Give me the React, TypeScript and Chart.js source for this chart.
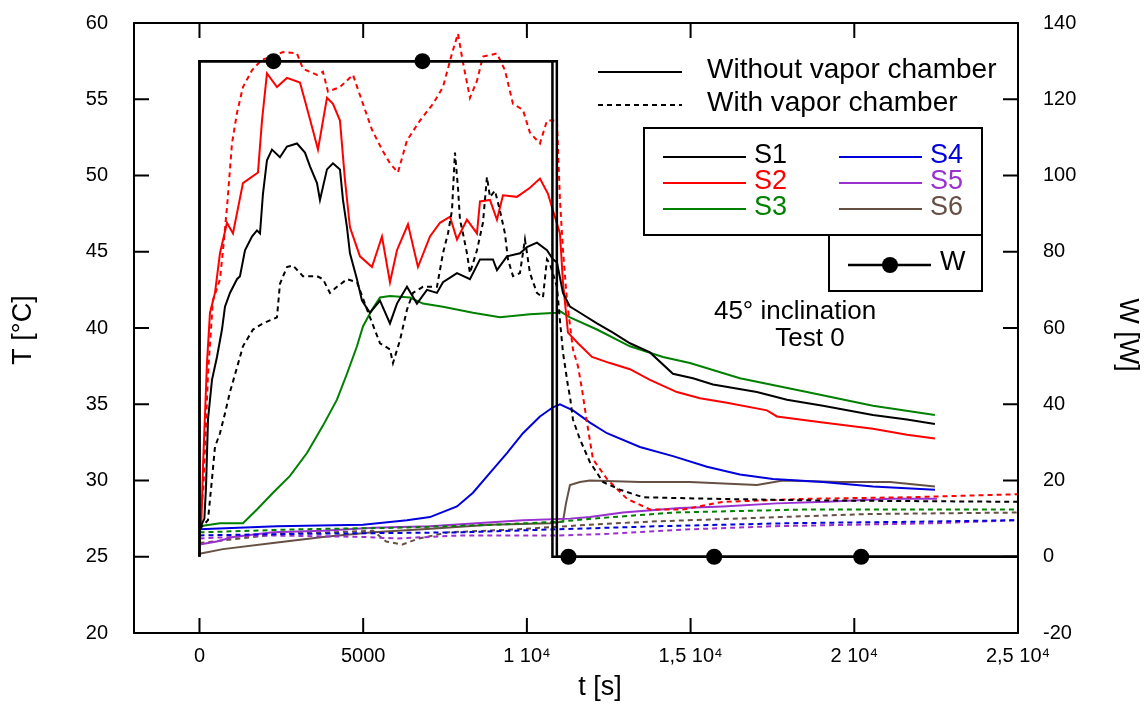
import React, { useEffect, useRef } from "react";
import { Chart, registerables } from "chart.js";

Chart.register(...registerables);

type Pt = [number, number];

// ---- axis ticks ----
const xTickValues = [0, 5000, 10000, 15000, 20000, 25000];
const xTickLabels = ["0", "5000", "1 10⁴", "1,5 10⁴", "2 10⁴", "2,5 10⁴"];

// ---- temperature series [t (s), T (°C)] ----
const s1Without: Pt[] = [[0,26.8],[150,27.5],[200,29.6],[260,34],[382,36.6],[534,38.1],[687,39.9],[779,41.4],[931,42.3],[1145,43.2],[1237,43.4],[1390,45.1],[1603,46.0],[1756,46.4],[1848,46.2],[1939,48.8],[2061,51.0],[2214,51.7],[2458,51.2],[2672,51.9],[2978,52.1],[3222,51.5],[3375,50.6],[3589,49.5],[3680,48.4],[3894,50.4],[4077,50.8],[4291,50.4],[4383,48.4],[4505,46.6],[4596,44.9],[4810,43.2],[4963,41.8],[5207,41.0],[5513,41.8],[5818,40.3],[6032,41.6],[6337,42.7],[6642,41.6],[6948,42.5],[7253,42.3],[7437,43.0],[7865,43.6],[8261,43.2],[8567,44.5],[8963,44.5],[9086,43.8],[9391,44.7],[9788,44.9],[10002,45.3],[10307,45.6],[10613,45.1],[10796,44.5],[10918,44.3],[11102,42.3],[11316,41.4],[11621,41.0],[12140,40.3],[12629,39.7],[13148,39.0],[13759,38.4],[14461,37.0],[15072,36.7],[15683,36.3],[17026,35.8],[17943,35.3],[19042,34.9],[20569,34.3],[21608,34.0],[22463,33.7]];
const s1With: Pt[] = [[0,26.8],[260,27.4],[382,30.1],[473,32.2],[626,33.1],[779,34.4],[931,35.8],[1145,37.4],[1328,38.8],[1634,39.9],[1939,40.3],[2367,40.7],[2458,42.9],[2672,44.0],[2856,44.1],[3161,43.4],[3589,43.4],[3772,43.2],[3985,42.3],[4199,42.7],[4505,43.2],[4810,43.0],[5207,40.7],[5513,39.0],[5818,38.6],[5910,37.7],[6124,39.2],[6337,41.2],[6520,42.3],[6826,42.7],[7253,42.7],[7437,44.9],[7590,46.2],[7712,47.7],[7803,51.5],[7895,49.2],[7956,47.1],[8048,46.2],[8170,44.9],[8261,43.6],[8475,45.1],[8658,46.9],[8780,49.9],[8872,48.6],[9025,49.0],[9177,47.7],[9330,46.2],[9422,44.5],[9575,43.4],[9788,43.6],[9941,45.8],[10094,43.6],[10307,42.3],[10491,42.0],[10613,44.5],[10705,44.2],[10918,42.7],[11010,40.5],[11102,38.4],[11255,36.2],[11316,35.5],[11407,34.0],[11621,32.7],[11926,31.2],[12323,29.9],[12842,29.4],[13545,28.9],[15683,28.8],[18553,28.7],[25000,28.6]];
const s2Without: Pt[] = [[0,26.9],[60,27.4],[107,30.9],[229,37.7],[321,41],[473,42.3],[626,44.9],[840,46.9],[1023,46.2],[1328,49.5],[1787,50.2],[1909,53.6],[2061,56.7],[2367,55.8],[2672,56.4],[3069,56.1],[3222,54.9],[3436,53.2],[3619,51.7],[3894,55.1],[4077,54.7],[4291,53.6],[4444,49.7],[4596,46.6],[4902,44.7],[5268,44.0],[5574,46.0],[5818,43.0],[6032,45.1],[6368,46.8],[6673,44.0],[7040,46.0],[7345,46.9],[7651,47.3],[7865,45.8],[8170,47.1],[8475,46.2],[8567,48.3],[8872,48.4],[9086,47.1],[9269,48.7],[9697,48.6],[10094,49.2],[10399,49.8],[10644,48.8],[10796,47.7],[11010,46.2],[11102,43.0],[11255,39.7],[11560,39.0],[11988,38.1],[12537,37.7],[13148,37.3],[13759,36.6],[14583,35.8],[15286,35.4],[16110,35.1],[17332,34.6],[17637,34.2],[19042,33.8],[20569,33.4],[21608,33.0],[22463,32.75]];
const s2With: Pt[] = [[0,27],[120,29.5],[260,37],[410,41.8],[626,43.2],[718,45.1],[840,47.9],[993,52.1],[1145,54.1],[1328,55.8],[1603,56.9],[1909,57.6],[2245,57.8],[2550,58.1],[2978,58.0],[3161,57.0],[3589,56.6],[3772,56.8],[3924,55.5],[4291,55.8],[4688,56.6],[4993,54.7],[5268,53.0],[5574,51.7],[5818,50.8],[6062,50.2],[6337,52.3],[6734,53.6],[7131,54.7],[7437,55.8],[7712,58.0],[7895,59.3],[8048,57.4],[8261,55.1],[8475,56.2],[8658,57.8],[9086,58.0],[9330,56.9],[9575,54.7],[9880,54.3],[10094,52.8],[10399,52.1],[10613,53.6],[10918,53.6],[11010,48.4],[11102,45.1],[11224,41.8],[11407,38.6],[11560,37.5],[11682,36.0],[11835,33.8],[12018,31.4],[12446,30.1],[13057,28.8],[13759,28.1],[14766,28.1],[15988,28.6],[18553,28.8],[21608,28.9],[25000,29.1]];
const s3Without: Pt[] = [[0,27.0],[626,27.2],[1328,27.2],[1756,28.1],[2245,29.2],[2764,30.3],[3283,31.8],[3772,33.6],[4199,35.3],[4505,37.0],[4810,38.8],[4993,40.1],[5268,41.2],[5513,42.0],[5818,42.1],[6429,42.0],[6826,41.6],[7437,41.4],[8353,41.0],[9177,40.7],[10094,40.9],[10918,41.0],[11010,41.1],[11316,40.7],[12140,39.9],[13148,38.8],[14156,38.1],[14980,37.7],[16507,36.7],[18553,35.8],[20569,34.9],[22463,34.3]];
const s3With: Pt[] = [[0,26.6],[3000,26.8],[6000,26.9],[9000,27.1],[11000,27.3],[12000,27.5],[14500,27.9],[18500,28.1],[25000,28.1]];
const s4Without: Pt[] = [[0,26.8],[2367,27.0],[4993,27.1],[6337,27.4],[7040,27.6],[7865,28.3],[8353,29.2],[8872,30.5],[9391,31.8],[9880,33.1],[10399,34.2],[10796,34.8],[11010,35.0],[11407,34.6],[11926,33.8],[12446,33.1],[13453,32.2],[14461,31.6],[15500,30.9],[16507,30.4],[17515,30.1],[19042,29.9],[20569,29.6],[22463,29.4]];
const s4With: Pt[] = [[0,26.4],[3000,26.5],[8000,26.6],[10900,26.8],[14000,27.0],[18000,27.2],[22000,27.3],[25000,27.4]];
const s5Without: Pt[] = [[0,25.8],[534,26.0],[1023,26.3],[2245,26.6],[3772,26.7],[5299,26.9],[7040,27.0],[9880,27.4],[11316,27.5],[11926,27.6],[12934,27.9],[14675,28.2],[15988,28.3],[17637,28.5],[19164,28.6],[21089,28.8],[22524,28.8]];
const s5With: Pt[] = [[0,26.2],[2000,26.4],[5000,26.3],[6000,26.2],[8000,26.4],[11000,26.4],[12500,26.5],[15000,26.8],[17500,27.0],[20000,27.1],[22500,27.2],[25000,27.4]];
const s6Without: Pt[] = [[0,25.2],[718,25.5],[2245,25.9],[3772,26.3],[5299,26.6],[6826,26.8],[8872,27.1],[10705,27.2],[11102,27.3],[11194,28.5],[11316,29.7],[11621,29.9],[11926,30.0],[13453,29.9],[14980,29.9],[17026,29.7],[17820,30.0],[19577,29.9],[21089,29.9],[22463,29.6]];
const s6With: Pt[] = [[0,25.9],[2500,26.5],[5300,26.7],[5700,26.0],[6200,25.8],[6700,26.2],[7600,26.6],[9700,26.8],[11900,27.1],[13700,27.3],[17700,27.6],[20400,27.8],[25000,27.9]];

// ---- power series [t (s), W] ----
const wWithout: Pt[] = [[0,0],[0,130],[2260,130],[6810,130],[10780,130],[10780,0],[11270,0],[15720,0],[20210,0],[25000,0]];
const wWith: Pt[] = [[0,0],[0,130],[10915,130],[10915,0],[25000,0]];
const wMarkerTimes = [2260, 6810, 11270, 15720, 20210];

const sensorNames = ["S1", "S2", "S3", "S4", "S5", "S6"];
const sensorColors = ["#000000", "#ff0000", "#008000", "#0000dd", "#9a30d0", "#665044"];
const sensorWithout = [s1Without, s2Without, s3Without, s4Without, s5Without, s6Without];
const sensorWith = [s1With, s2With, s3With, s4With, s5With, s6With];

const FONT = "'Liberation Sans', Arial, Helvetica, sans-serif";
const DASH = [5, 4];

const toXY = (pts: Pt[]) => pts.map(([x, y]) => ({ x, y }));

const noPad = (s: any) => {
  s.paddingTop = 0;
  s.paddingBottom = 0;
  s.paddingLeft = 0;
  s.paddingRight = 0;
};

const overlayPlugin = {
  id: "overlay",
  afterDatasetsDraw(chart: any) {
    const { ctx, chartArea: a, scales } = chart;
    ctx.save();
    ctx.strokeStyle = "#000";
    ctx.lineWidth = 2;
    ctx.strokeRect(a.left, a.top, a.right - a.left, a.bottom - a.top);
    const TL = 15;
    ctx.beginPath();
    scales.y.ticks.forEach((t: any) => {
      const y = scales.y.getPixelForValue(t.value);
      ctx.moveTo(a.left, y);
      ctx.lineTo(a.left + TL, y);
    });
    scales.y1.ticks.forEach((t: any) => {
      const y = scales.y1.getPixelForValue(t.value);
      ctx.moveTo(a.right, y);
      ctx.lineTo(a.right - TL, y);
    });
    scales.x.ticks.forEach((t: any) => {
      const x = scales.x.getPixelForValue(t.value);
      ctx.moveTo(x, a.bottom);
      ctx.lineTo(x, a.bottom - TL);
      ctx.moveTo(x, a.top);
      ctx.lineTo(x, a.top + TL);
    });
    ctx.stroke();
    ctx.restore();
  },
  afterDraw(chart: any) {
    const { ctx } = chart;
    ctx.save();
    ctx.fillStyle = "#000";
    ctx.textBaseline = "middle";

    // axis titles
    ctx.font = `27px ${FONT}`;
    ctx.textAlign = "center";
    ctx.fillText("t [s]", 600, 688);
    ctx.save();
    ctx.translate(24, 330);
    ctx.rotate(-Math.PI / 2);
    ctx.fillText("T [°C]", 0, 0);
    ctx.restore();
    ctx.save();
    ctx.translate(1127, 335);
    ctx.rotate(Math.PI / 2);
    ctx.fillText("W [W]", 0, 0);
    ctx.restore();

    // line-style legend
    ctx.strokeStyle = "#000";
    ctx.lineWidth = 2;
    ctx.beginPath();
    ctx.moveTo(598, 72);
    ctx.lineTo(682, 72);
    ctx.stroke();
    ctx.setLineDash(DASH);
    ctx.beginPath();
    ctx.moveTo(598, 105);
    ctx.lineTo(682, 105);
    ctx.stroke();
    ctx.setLineDash([]);
    ctx.font = `28px ${FONT}`;
    ctx.textAlign = "left";
    ctx.fillText("Without vapor chamber", 707, 70);
    ctx.fillText("With vapor chamber", 707, 103);

    // sensor legend box
    ctx.lineWidth = 2;
    ctx.strokeRect(644, 128, 338, 107);
    ctx.strokeRect(829, 235, 153, 56);
    ctx.font = `27px ${FONT}`;
    sensorNames.forEach((name, i) => {
      const col = i < 3 ? 0 : 1;
      const row = i % 3;
      const y = 157 + row * 26;
      const x0 = col === 0 ? 663 : 839;
      ctx.strokeStyle = sensorColors[i];
      ctx.beginPath();
      ctx.moveTo(x0, y);
      ctx.lineTo(x0 + 83, y);
      ctx.stroke();
      ctx.fillStyle = sensorColors[i];
      ctx.fillText(name, x0 + 91, y - 1);
    });
    ctx.strokeStyle = "#000";
    ctx.fillStyle = "#000";
    ctx.lineWidth = 2.5;
    ctx.beginPath();
    ctx.moveTo(848, 265);
    ctx.lineTo(931, 265);
    ctx.stroke();
    ctx.beginPath();
    ctx.arc(890, 265, 8, 0, Math.PI * 2);
    ctx.fill();
    ctx.fillText("W", 940, 263);

    // annotation
    ctx.font = `26px ${FONT}`;
    ctx.textAlign = "center";
    ctx.fillText("45° inclination", 795, 312);
    ctx.fillText("Test 0", 810, 339);
    ctx.restore();
  },
};

export default function App() {
  const ref = useRef<HTMLCanvasElement | null>(null);

  useEffect(() => {
    if (!ref.current) return;
    const datasets: any[] = [];
    datasets.push({
      label: "W",
      data: toXY(wWithout),
      yAxisID: "y1",
      borderColor: "#000",
      borderWidth: 2.5,
      backgroundColor: "#000",
      pointRadius: (c: any) => (c.raw && wMarkerTimes.includes(c.raw.x) && (c.raw.y === 0 || c.raw.y === 130) ? 8 : 0),
      pointBackgroundColor: "#000",
      pointBorderWidth: 0,
    });
    datasets.push({
      label: "W (with)",
      data: toXY(wWith),
      yAxisID: "y1",
      borderColor: "#000",
      borderWidth: 2.5,
      pointRadius: 0,
    });
    sensorNames.forEach((name, i) => {
      datasets.push({
        label: name,
        data: toXY(sensorWithout[i]),
        yAxisID: "y",
        borderColor: sensorColors[i],
        borderWidth: 2,
        pointRadius: 0,
      });
      datasets.push({
        label: name + " (with)",
        data: toXY(sensorWith[i]),
        yAxisID: "y",
        borderColor: sensorColors[i],
        borderWidth: 2,
        borderDash: DASH,
        pointRadius: 0,
      });
    });

    const tickFont = { family: FONT, size: 20 };
    const chart = new Chart(ref.current, {
      type: "line",
      data: { datasets },
      options: {
        responsive: false,
        animation: false,
        devicePixelRatio: 1,
        layout: { padding: { top: 23, left: 0, right: 0, bottom: 0 } },
        plugins: { legend: { display: false }, tooltip: { enabled: false } },
        elements: { line: { tension: 0 } },
        scales: {
          x: {
            type: "linear",
            min: -2000,
            max: 25000,
            afterBuildTicks: (s: any) => {
              s.ticks = xTickValues.map((v) => ({ value: v }));
            },
            afterFit: (s: any) => {
              s.height = 76;
              noPad(s);
            },
            ticks: {
              autoSkip: false,
              maxRotation: 0,
              padding: 11,
              color: "#000",
              font: tickFont,
              callback: (v: any) => {
                const i = xTickValues.indexOf(Number(v));
                return i >= 0 ? xTickLabels[i] : "";
              },
            },
            grid: { display: false, drawTicks: false },
            border: { display: false },
          },
          y: {
            position: "left",
            min: 20,
            max: 60,
            afterFit: (s: any) => {
              s.width = 134;
              noPad(s);
            },
            ticks: { stepSize: 5, padding: 26, color: "#000", font: tickFont },
            grid: { display: false, drawTicks: false },
            border: { display: false },
          },
          y1: {
            position: "right",
            min: -20,
            max: 140,
            afterFit: (s: any) => {
              s.width = 129;
              noPad(s);
            },
            ticks: { stepSize: 20, padding: 25, color: "#000", font: tickFont },
            grid: { display: false, drawTicks: false },
            border: { display: false },
          },
        },
      } as any,
      plugins: [overlayPlugin],
    });
    return () => chart.destroy();
  }, []);

  return (
    <div style={{ position: "absolute", left: 0, top: 0, width: 1147, height: 709, background: "#fff" }}>
      <canvas ref={ref} width={1147} height={709} style={{ display: "block" }} />
    </div>
  );
}
